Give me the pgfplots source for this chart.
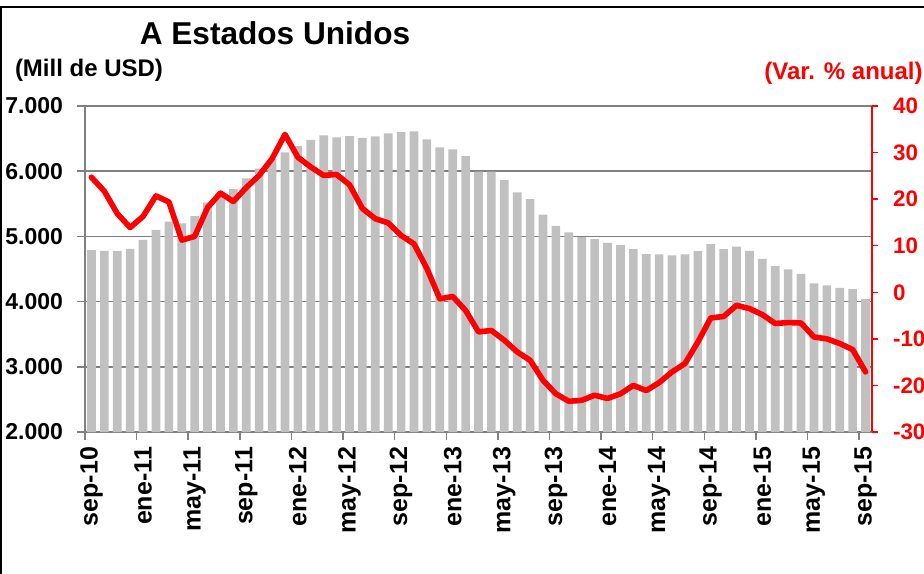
\documentclass[border=0pt]{standalone}
\usepackage{pgfplots}
\pgfplotsset{compat=1.18}
\usepackage{pgfplotstable}
\usepackage{fontspec}
\setmainfont{Liberation Sans}
\definecolor{barg}{RGB}{192,192,192}
\definecolor{gridg}{RGB}{128,128,128}

\pgfplotstableread{
x y
0 4790
1 4780
2 4775
3 4810
4 4945
5 5100
6 5225
7 5200
8 5310
9 5520
10 5600
11 5725
12 5890
13 6040
14 6190
15 6290
16 6385
17 6480
18 6550
19 6520
20 6540
21 6510
22 6535
23 6580
24 6600
25 6610
26 6490
27 6365
28 6335
29 6230
30 5995
31 5995
32 5865
33 5675
34 5570
35 5335
36 5160
37 5060
38 4990
39 4960
40 4900
41 4865
42 4805
43 4730
44 4725
45 4710
46 4725
47 4775
48 4880
49 4805
50 4845
51 4780
52 4655
53 4545
54 4495
55 4425
56 4280
57 4250
58 4210
59 4190
60 4040
}\bars

\pgfplotstableread{
x y
0 24.7
1 21.7
2 16.9
3 13.9
4 16.3
5 20.7
6 19.4
7 11.2
8 12.0
9 18.2
10 21.3
11 19.5
12 22.5
13 25.1
14 28.7
15 33.9
16 29.0
17 26.9
18 25.1
19 25.3
20 23.1
21 18.0
22 15.8
23 14.9
24 12.2
25 10.4
26 5.1
27 -1.4
28 -0.9
29 -3.9
30 -8.5
31 -8.2
32 -10.3
33 -12.8
34 -14.6
35 -18.9
36 -21.8
37 -23.4
38 -23.2
39 -22.1
40 -22.8
41 -21.8
42 -20.0
43 -21.1
44 -19.4
45 -17.1
46 -15.3
47 -10.7
48 -5.5
49 -5.2
50 -2.8
51 -3.5
52 -4.8
53 -6.7
54 -6.5
55 -6.6
56 -9.6
57 -10.0
58 -11.0
59 -12.3
60 -17.1
}\growth

\begin{document}
\begin{tikzpicture}[x=1pt,y=1pt]
\useasboundingbox (-42.5,-70.5) rectangle (419.5,216);
\draw[line width=1pt] (-41.75,-72) -- (-41.75,212.5) -- (421,212.5);
\begin{axis}[
  at={(0,0)}, anchor=south west, scale only axis,
  width=393.5pt, height=163pt,
  xmin=-0.5, xmax=60.5, ymin=2000, ymax=7000,
  axis y line*=left, axis x line*=bottom,
  axis line style={gridg, line width=0.75pt},
  ymajorgrids, grid style={gridg, line width=0.75pt},
  ytick={2000,3000,4000,5000,6000,7000},
  yticklabels={2.000,3.000,4.000,5.000,6.000,7.000},
  tick align=outside, major tick length=4pt,
  ytick style={gridg, line width=0.75pt},
  xtick={0,4,...,60},
  xticklabels={sep-10,ene-11,may-11,sep-11,ene-12,may-12,sep-12,ene-13,may-13,sep-13,ene-14,may-14,sep-14,ene-15,may-15,sep-15},
  xtick style={draw=none},
  extra x ticks={-0.5,3.5,...,59.5},
  extra x tick labels={},
  extra x tick style={xtick style={draw=gridg, line width=0.75pt}},
  /pgf/number format/assume math mode=true,
  yticklabel style={font=\bfseries\fontsize{11.5}{13}\selectfont, xshift=-3.5pt},
  xticklabel style={rotate=90, anchor=east, font=\bfseries\fontsize{12.5}{14}\selectfont},
]
\addplot[ybar, bar width=0.67, fill=barg, draw=none] table {\bars};
\end{axis}
\begin{axis}[
  at={(0,0)}, anchor=south west, scale only axis,
  width=393.5pt, height=163pt,
  xmin=-0.5, xmax=60.5, ymin=-30, ymax=40,
  axis y line*=right, axis x line=none,
  y axis line style={red, line width=0.75pt},
  ytick={-30,-20,-10,0,10,20,30,40},
  yticklabels={-30,-20,-10,0,10,20,30,40},
  tick align=outside, major tick length=3pt,
  ytick style={red, line width=0.75pt},
  /pgf/number format/assume math mode=true,
  yticklabel style={red, font=\bfseries\fontsize{11.2}{13}\selectfont, xshift=4pt},
]
\addplot[red, line width=2.8pt, line join=round, line cap=round, no marks] table {\growth};
\end{axis}
\node[font=\bfseries\fontsize{15.8}{18}\selectfont] at (95,199.5) {A Estados Unidos};
\node[font=\bfseries\fontsize{12}{14}\selectfont] at (2,181) {(Mill de USD)};
\node[font=\bfseries\fontsize{12}{14}\selectfont, text=red] at (379.25,179.25) {(Var. \% anual)};
\end{tikzpicture}
\end{document}
